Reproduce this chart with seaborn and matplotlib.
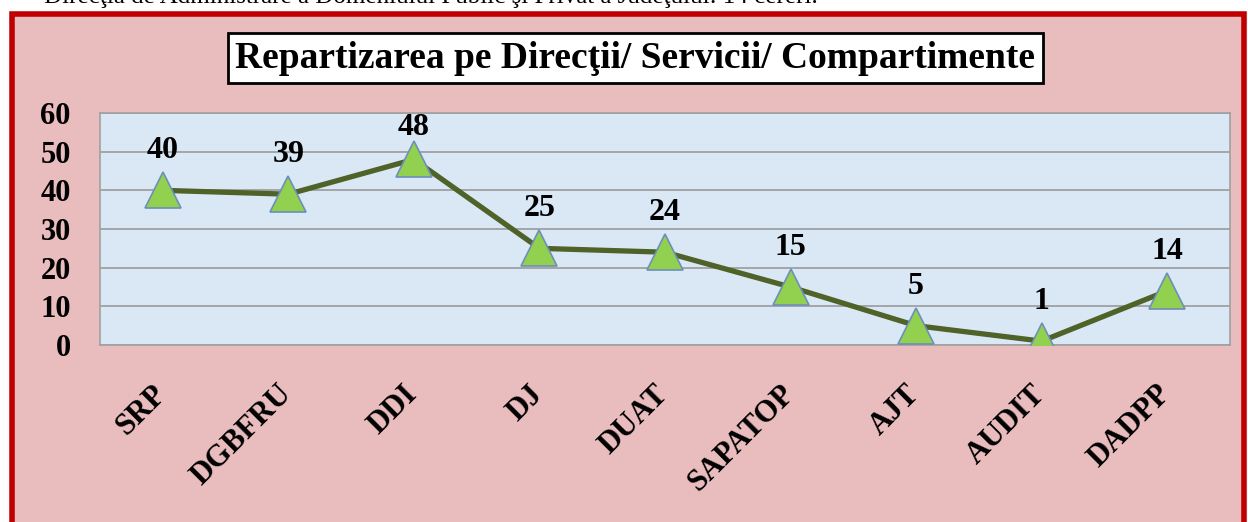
import matplotlib
matplotlib.use("Agg")
import matplotlib.pyplot as plt
import matplotlib.transforms as mtransforms
from matplotlib.patches import Rectangle
import seaborn as sns

# data
departments = ["SRP", "DGBFRU", "DDI", "DJ", "DUAT", "SAPATOP", "AJT", "AUDIT", "DADPP"]
requests = [40, 39, 48, 25, 24, 15, 5, 1, 14]
y_ticks = [0, 10, 20, 30, 40, 50, 60]

title = "Repartizarea pe Direcţii/ Servicii/ Compartimente"
header = "Direcţia de Administrare a Domeniului Public şi Privat a Judeţului: 14 cereri."

W, H = 1248, 522
PINK = "#e9bcbe"
BLUE = "#dae8f6"
RED = "#c00000"

sns.set_theme(style="white")
plt.rcParams["font.family"] = ["Liberation Serif", "DejaVu Serif"]
plt.rcParams["text.color"] = "black"
plt.rcParams["xtick.color"] = "black"
plt.rcParams["ytick.color"] = "black"

fig = plt.figure(figsize=(W / 100, H / 100), dpi=100)
fig.patch.set_facecolor("white")

# pink panel with red frame
fig.patches.append(Rectangle((12 / W, -0.1), (1244 - 12) / W, 1.1 - 14 / H,
                             transform=fig.transFigure, facecolor=PINK,
                             edgecolor=RED, linewidth=4, zorder=0))

fig.text(44 / W, 1 - 3 / H, header, ha="left", va="baseline", fontsize=18, color="black")

ax = fig.add_axes([100 / W, (H - 345) / H, 1130 / W, 232 / H])
ax.set_zorder(2)
ax.set_facecolor(BLUE)

sns.lineplot(x=departments, y=requests, ax=ax, color="#4f6228", linewidth=3.8,
             marker="^", markersize=26, markerfacecolor="#92d050",
             markeredgecolor="#6d8fb8", markeredgewidth=1.2, zorder=3)

ax.set_xlim(-0.5, len(departments) - 0.5)
ax.set_ylim(0, 60)

# labels sit above the marker, pushed down a bit when close to the top
px_per_unit = 232 / 60
for i, v in enumerate(requests):
    room = (60 - v) * px_per_unit
    off_px = min(25, room - 29)
    ax.annotate(str(v), (i, v), xytext=(0, off_px * 0.72), textcoords="offset points",
                ha="center", va="bottom", fontsize=23, fontweight="bold")

ax.set_yticks(y_ticks)
ax.yaxis.grid(True, color="#9a9a9a", linewidth=1.2)
ax.set_axisbelow(True)
for s in ax.spines.values():
    s.set_color("#a0a0a0")
    s.set_linewidth(1.2)

ax.tick_params(axis="y", length=0, pad=21, labelsize=22)
ax.tick_params(axis="x", length=0, pad=25, labelsize=22)
for lab in ax.get_yticklabels():
    lab.set_fontweight("bold")
ax.set_xticks(range(len(departments)))
ax.set_xticklabels(departments, rotation=45, ha="right", rotation_mode="anchor",
                   fontweight="bold")
shift = mtransforms.ScaledTranslation(-8 / 72, 0, fig.dpi_scale_trans)
for lab in ax.get_xticklabels():
    lab.set_transform(lab.get_transform() + shift)
ax.set_xlabel("")
ax.set_ylabel("")

fig.text(635 / W, 1 - 58 / H, title, ha="center", va="center", fontsize=27,
         fontweight="bold", zorder=5,
         bbox=dict(boxstyle="square,pad=0.2", facecolor="white",
                   edgecolor="black", linewidth=2))

fig.savefig("out.png", dpi=100)
